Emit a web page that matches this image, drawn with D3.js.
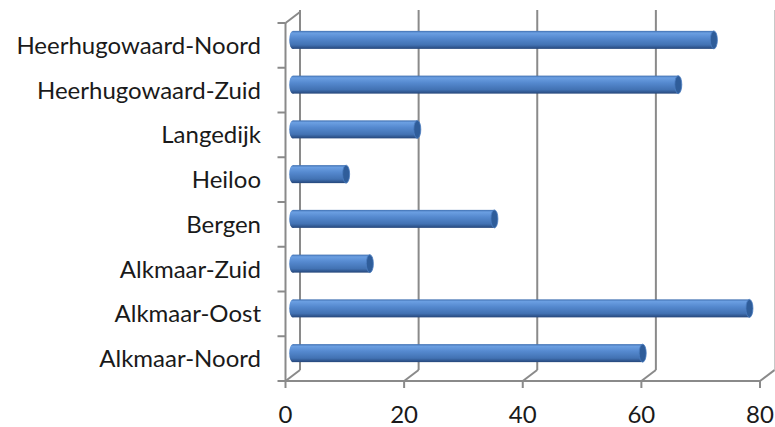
<!DOCTYPE html>
<html>
<head>
<meta charset="utf-8">
<script src="https://cdn.jsdelivr.net/npm/d3@7"></script>
<style>
  body { margin: 0; background: #fff; }
  svg { display: block; }
  text { font-family: Lato, "Open Sans", sans-serif; fill: #1a1a1a; }
</style>
</head>
<body>
<div id="chart"></div>
<script>
// categories from top to bottom
var categories = ["Heerhugowaard-Noord", "Heerhugowaard-Zuid", "Langedijk", "Heiloo",
                  "Bergen", "Alkmaar-Zuid", "Alkmaar-Oost", "Alkmaar-Noord"];
var values = [71, 65, 21, 9, 34, 13, 77, 59];
var ticks = [0, 20, 40, 60, 80];

var width = 775, height = 427;
// 3d depth offset (front -> back)
var dx = 14.5, dy = -11;

var svg = d3.select("#chart").append("svg")
    .attr("width", width)
    .attr("height", height);

var x = d3.scaleLinear().domain([0, 80]).range([285.5, 760]);
var y = d3.scaleBand().domain(categories).range([23, 381]).padding(0);

var defs = svg.append("defs");
var grad = defs.append("linearGradient")
    .attr("id", "cyl").attr("x1", 0).attr("y1", 0).attr("x2", 0).attr("y2", 1);
[["0%", "#3f6fb0"], ["12%", "#6b9fe2"], ["40%", "#5589cf"], ["78%", "#4272b3"], ["100%", "#25467a"]]
  .forEach(function(s) { grad.append("stop").attr("offset", s[0]).attr("stop-color", s[1]); });

var gridColor = "#8a8a8a";
var floorY = y.range()[1], topY = 10;

// back wall gridlines
svg.selectAll("line.grid")
    .data(ticks)
  .enter().append("line")
    .attr("class", "grid")
    .attr("x1", function(d) { return x(d) + dx; })
    .attr("x2", function(d) { return x(d) + dx; })
    .attr("y1", topY)
    .attr("y2", floorY + dy)
    .attr("stroke", function(d) { return d === 80 ? "#c8c8c8" : gridColor; })
    .attr("stroke-width", function(d) { return d === 80 ? 1 : 2; });

// floor diagonals
svg.selectAll("line.floor")
    .data(ticks)
  .enter().append("line")
    .attr("class", "floor")
    .attr("x1", function(d) { return x(d); })
    .attr("y1", floorY)
    .attr("x2", function(d) { return x(d) + dx; })
    .attr("y2", floorY + dy)
    .attr("stroke", gridColor)
    .attr("stroke-width", 2);

// front x axis
svg.append("line")
    .attr("x1", x(0)).attr("x2", x(80))
    .attr("y1", floorY).attr("y2", floorY)
    .attr("stroke", gridColor).attr("stroke-width", 2);
svg.selectAll("line.xtick")
    .data(ticks)
  .enter().append("line")
    .attr("x1", function(d) { return x(d); })
    .attr("x2", function(d) { return x(d); })
    .attr("y1", floorY).attr("y2", floorY + 7)
    .attr("stroke", gridColor).attr("stroke-width", 2);
svg.selectAll("text.xlab")
    .data(ticks)
  .enter().append("text")
    .attr("x", function(d) { return x(d); })
    .attr("y", 423)
    .attr("text-anchor", "middle")
    .style("font-size", "24px")
    .text(function(d) { return d; });

// left category axis
svg.append("line")
    .attr("x1", x(0)).attr("x2", x(0))
    .attr("y1", y.range()[0]).attr("y2", floorY)
    .attr("stroke", gridColor).attr("stroke-width", 2);
svg.append("line")
    .attr("x1", x(0)).attr("y1", y.range()[0])
    .attr("x2", x(0) + dx).attr("y2", y.range()[0] + dy)
    .attr("stroke", gridColor).attr("stroke-width", 2);
svg.selectAll("line.ytick")
    .data(categories.concat(["_end"]))
  .enter().append("line")
    .attr("x1", x(0) - 8).attr("x2", x(0))
    .attr("y1", function(d, i) { return y.range()[0] + i * y.step(); })
    .attr("y2", function(d, i) { return y.range()[0] + i * y.step(); })
    .attr("stroke", gridColor).attr("stroke-width", 2);
svg.selectAll("text.ylab")
    .data(categories)
  .enter().append("text")
    .attr("x", 261)
    .attr("y", function(d) { return y(d) + y.bandwidth() / 2; })
    .attr("dy", "0.35em")
    .attr("text-anchor", "end")
    .style("font-size", "24px")
    .text(function(d) { return d; });

// cylinders at mid depth
var barH = 18, capRx = 3.5;
var bars = svg.selectAll("g.bar")
    .data(categories.map(function(c, i) { return {cat: c, val: values[i]}; }))
  .enter().append("g").attr("class", "bar")
    .attr("transform", function(d) {
      return "translate(0," + (y(d.cat) + y.bandwidth() / 2 + dy / 2) + ")";
    });
bars.append("ellipse")
    .attr("cx", x(0) + dx / 2).attr("cy", 0)
    .attr("rx", capRx).attr("ry", barH / 2)
    .attr("fill", "url(#cyl)");
bars.append("rect")
    .attr("x", x(0) + dx / 2)
    .attr("y", -barH / 2)
    .attr("width", function(d) { return x(d.val) - x(0); })
    .attr("height", barH)
    .attr("fill", "url(#cyl)");
bars.append("ellipse")
    .attr("cx", function(d) { return x(d.val) + dx / 2; })
    .attr("cy", 0)
    .attr("rx", capRx).attr("ry", barH / 2)
    .attr("fill", "#2f5d9a")
    .attr("stroke", "#4a7cc0")
    .attr("stroke-width", 0.8);
</script>
</body>
</html>
